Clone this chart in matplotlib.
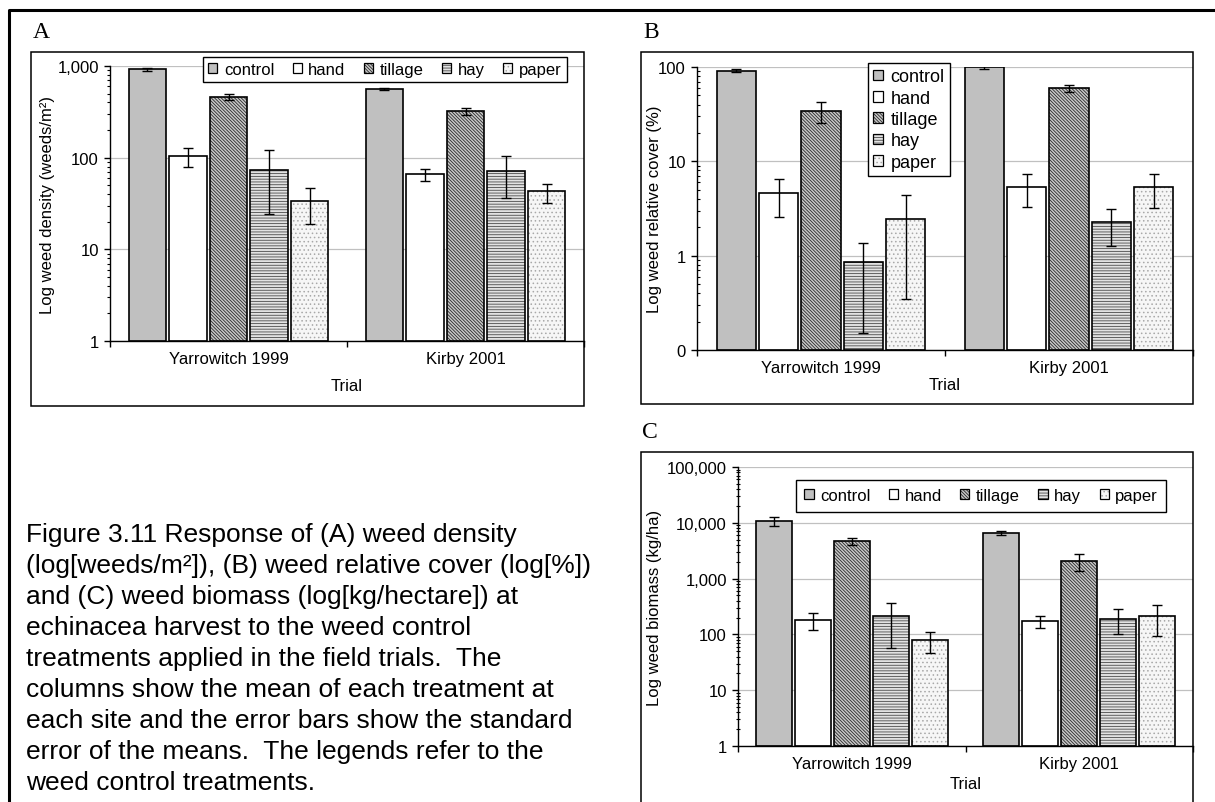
import matplotlib.pyplot as plt
from matplotlib.patches import Rectangle
from matplotlib.lines import Line2D
from matplotlib.ticker import FixedLocator, FuncFormatter, LogLocator, NullFormatter

plt.rcParams['font.family'] = ['Liberation Sans', 'DejaVu Sans']
plt.rcParams['hatch.linewidth'] = 0.6

W, H = 1215, 803

trials = ['Yarrowitch 1999', 'Kirby 2001']
treatments = ['control', 'hand', 'tillage', 'hay', 'paper']

# weed density (weeds/m2), one row per trial
density_mean = [[920, 104, 463, 72, 33], [556, 65, 320, 70, 42]]
density_se = [[40, 24, 38, 48, 14], [15, 9.5, 30, 34, 10]]

# weed relative cover (%)
cover_mean = [[91.5, 4.5, 34, 0.75, 2.35], [100, 5.3, 59.6, 2.2, 5.3]]
cover_se = [[4, 1.95, 8.5, 0.6, 2.0], [4, 2.0, 5.6, 0.93, 2.1]]

# weed biomass (kg/ha)
biomass_mean = [[10800, 181, 4720, 214, 79], [6650, 171, 2060, 191, 214]]
biomass_se = [[1870, 60, 730, 158, 33], [600, 42, 690, 91, 121]]

caption = [
    'Figure 3.11 Response of (A) weed density',
    '(log[weeds/m\u00b2]), (B) weed relative cover (log[%])',
    'and (C) weed biomass (log[kg/hectare]) at',
    'echinacea harvest to the weed control',
    'treatments applied in the field trials.  The',
    'columns show the mean of each treatment at',
    'each site and the error bars show the standard',
    'error of the means.  The legends refer to the',
    'weed control treatments.',
]

# face colour, hatch, hatch colour for each treatment
styles = {
    'control': ('#c0c0c0', None, 'black'),
    'hand': ('white', None, 'black'),
    'tillage': ('#c8c8c8', '\\' * 10, '#2a2a2a'),
    'hay': ('#e2e2e2', '------', '#4a4a4a'),
    'paper': ('#f6f6f6', '....', '#a8a8a8'),
}

SLOT = 0.171
BAR_W = 0.158


def fx(x):
    return x / W


def fy(y):
    return 1 - y / H


def px_axes(fig, left, top, right, bottom):
    return fig.add_axes([fx(left), fy(bottom), (right - left) / W, (bottom - top) / H])


def box(fig, left, top, right, bottom, lw=1.1):
    fig.add_artist(Rectangle((fx(left), fy(bottom)), (right - left) / W, (bottom - top) / H,
                             transform=fig.transFigure, fill=False,
                             edgecolor='black', lw=lw))


def legend_handles():
    handles = []
    for t in treatments:
        face, hatch, hcol = styles[t]
        fill = Rectangle((0, 0), 1, 1, facecolor=face, hatch=hatch, edgecolor=hcol, lw=0)
        edge = Rectangle((0, 0), 1, 1, fill=False, edgecolor='black', lw=0.9)
        handles.append((fill, edge))
    return handles


def draw_panel(fig, rect, means, ses, ylim, ylabel, ylabel_x, trial_y, minor_dir):
    left, top, right, bottom = rect
    ax = px_axes(fig, left, top, right, bottom)
    ax.set_xlim(0, len(trials))
    ax.set_yscale('log')
    ax.set_ylim(*ylim)
    ax.set_axisbelow(True)

    for j, t in enumerate(treatments):
        face, hatch, hcol = styles[t]
        xs = [i + 0.5 + (j - 2) * SLOT for i in range(len(trials))]
        vals = [means[i][j] for i in range(len(trials))]
        errs = [ses[i][j] for i in range(len(trials))]
        ax.bar(xs, vals, width=BAR_W, bottom=ylim[0], color=face, hatch=hatch,
               edgecolor=hcol, lw=0, zorder=2)
        ax.bar(xs, vals, width=BAR_W, bottom=ylim[0], fill=False,
               edgecolor='black', lw=1.2, zorder=3)
        ax.errorbar(xs, vals, yerr=errs, fmt='none', ecolor='black',
                    elinewidth=1, capsize=3.5, capthick=1, zorder=4)

    decades = []
    v = ylim[0]
    while v <= ylim[1] * 1.0001:
        decades.append(v)
        v *= 10
    ax.yaxis.set_major_locator(FixedLocator(decades))
    ax.yaxis.set_major_formatter(FuncFormatter(lambda v, p: f'{v:,.0f}'))
    ax.yaxis.set_minor_locator(LogLocator(base=10, subs=range(2, 10)))
    ax.yaxis.set_minor_formatter(NullFormatter())
    ax.grid(axis='y', which='major', color='#c0c0c0', lw=0.9)

    ax.xaxis.set_major_locator(FixedLocator([0, 1, 2]))
    ax.xaxis.set_major_formatter(NullFormatter())
    ax.xaxis.set_minor_locator(FixedLocator([0.5, 1.5]))
    ax.xaxis.set_minor_formatter(FuncFormatter(lambda v, p: trials[int(v)]))

    ax.tick_params(axis='y', which='major', direction='out', length=4, width=1,
                   labelsize=12, pad=4)
    ax.tick_params(axis='y', which='minor', direction=minor_dir, length=2.5, width=0.8)
    ax.tick_params(axis='x', which='major', direction='out', length=4, width=1)
    ax.tick_params(axis='x', which='minor', length=0, labelsize=12, pad=7)

    for s in ('top', 'right'):
        ax.spines[s].set_visible(False)
    for s in ('left', 'bottom'):
        ax.spines[s].set_linewidth(1)
        ax.spines[s].set_color('black')

    fig.text(fx(ylabel_x), fy((top + bottom) / 2), ylabel, rotation=90,
             ha='center', va='center', fontsize=12)
    fig.text(fx((left + right) / 2), fy(trial_y), 'Trial', ha='center', va='center',
             fontsize=12)
    return ax


def add_legend(ax, fig, x, y, ncol, **kw):
    leg = ax.legend(legend_handles(), treatments, loc='upper left',
                    bbox_to_anchor=(fx(x), fy(y)), bbox_transform=fig.transFigure,
                    ncol=ncol, frameon=True, fancybox=False, framealpha=1,
                    edgecolor='black', borderaxespad=0, handlelength=0.55,
                    handleheight=0.55, handletextpad=0.4, **kw)
    leg.get_frame().set_linewidth(1)
    leg.set_zorder(10)
    return leg


fig = plt.figure(figsize=(W / 100, H / 100), dpi=100)

# outer frame: top and left edges only
fig.add_artist(Line2D([fx(9), fx(9), fx(1215)], [fy(803), fy(11), fy(11)],
                      transform=fig.transFigure, color='black', lw=2.2))

# panel A
box(fig, 31, 53, 584, 407)
fig.text(fx(33), fy(32), 'A', family='Liberation Serif', fontsize=17, va='center')
ax_a = draw_panel(fig, (110, 67, 584, 342), density_mean, density_se, (1, 1000),
                  'Log weed density (weeds/m\u00b2)', 48, 387, 'out')
add_legend(ax_a, fig, 203, 58, 5, fontsize=12, borderpad=0.3, columnspacing=1.1)

# panel B
box(fig, 641, 53, 1193, 405)
fig.text(fx(643), fy(32), 'B', family='Liberation Serif', fontsize=17, va='center')
ax_b = draw_panel(fig, (697, 68, 1193, 351), cover_mean, cover_se, (0.1, 100),
                  'Log weed relative cover (%)', 655, 386, 'in')
add_legend(ax_b, fig, 868, 64, 1, fontsize=13, borderpad=0.3, labelspacing=0.24)

# panel C
box(fig, 641, 453, 1193, 820)
fig.text(fx(642), fy(432), 'C', family='Liberation Serif', fontsize=17, va='center')
ax_c = draw_panel(fig, (738, 468, 1193, 747), biomass_mean, biomass_se, (1, 100000),
                  'Log weed biomass (kg/ha)', 654, 785, 'inout')
add_legend(ax_c, fig, 796, 481, 5, fontsize=12, borderpad=0.5, columnspacing=1.1)

# caption
for k, line in enumerate(caption):
    fig.text(fx(26), fy(542 + k * 31.0), line, fontsize=19, va='baseline', ha='left')

fig.savefig('out.png', dpi=100)
